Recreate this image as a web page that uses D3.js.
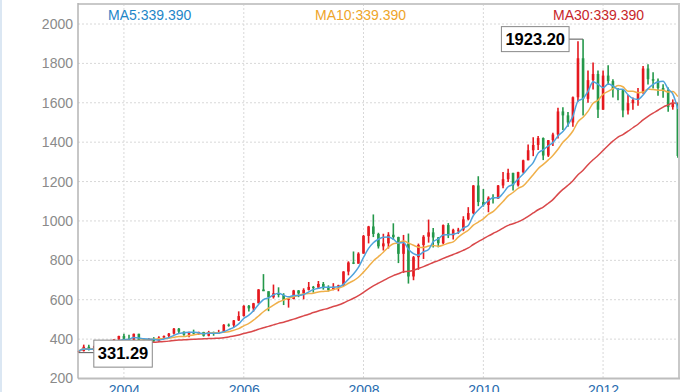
<!DOCTYPE html>
<html><head><meta charset="utf-8">
<script src="https://cdn.jsdelivr.net/npm/d3@7"></script>
<style>html,body{margin:0;padding:0;background:#fff;overflow:hidden}</style>
</head><body>
<script>
const months = ["2003-04","2003-05","2003-06","2003-07","2003-08","2003-09","2003-10","2003-11","2003-12",
"2004-01","2004-02","2004-03","2004-04","2004-05","2004-06","2004-07","2004-08","2004-09","2004-10","2004-11","2004-12",
"2005-01","2005-02","2005-03","2005-04","2005-05","2005-06","2005-07","2005-08","2005-09","2005-10","2005-11","2005-12",
"2006-01","2006-02","2006-03","2006-04","2006-05","2006-06","2006-07","2006-08","2006-09","2006-10","2006-11","2006-12",
"2007-01","2007-02","2007-03","2007-04","2007-05","2007-06","2007-07","2007-08","2007-09","2007-10","2007-11","2007-12",
"2008-01","2008-02","2008-03","2008-04","2008-05","2008-06","2008-07","2008-08","2008-09","2008-10","2008-11","2008-12",
"2009-01","2009-02","2009-03","2009-04","2009-05","2009-06","2009-07","2009-08","2009-09","2009-10","2009-11","2009-12",
"2010-01","2010-02","2010-03","2010-04","2010-05","2010-06","2010-07","2010-08","2010-09","2010-10","2010-11","2010-12",
"2011-01","2011-02","2011-03","2011-04","2011-05","2011-06","2011-07","2011-08","2011-09","2011-10","2011-11","2011-12",
"2012-01","2012-02","2012-03","2012-04","2012-05","2012-06","2012-07","2012-08","2012-09","2012-10","2012-11","2012-12",
"2013-01","2013-02","2013-03","2013-04"];
const openV = [336.5,339.4,361,346,354.8,375.6,384,386,398,
416,402,397,427,388,393,395,391,408,416,428,453,
438,422,435,428,436,417,436,429,433,473,470,495,
517,569,556,582,652,643,613,633,624,599,604,647,
632,650,665,662,680,659,650,666,673,743,789,783,
834,924,972,934,871,886,930,918,833,885,718,816,
878,920,942,916,887,979,927,955,955.5,1008,1040,1180,
1096,1081,1118,1113,1180,1212,1244,1181,1248,1308,1359,1386,
1421,1332,1410,1439,1556,1536,1500,1628,1826,1620,1715,1746,
1565,1738,1710,1669,1664,1561,1598,1614,1649,1774,1720,1712,
1675,1663,1578,1596];
const highV = [341.5,372,371,366,376,390,392,399,417,
427,422,428,427.5,395,406,410,414,418,431,456,457,
438.5,438,448,438,437,442,438,447,476,479,497,541,
572,573,584,654,730,643,677,663,633,608,650,649,
658,690,670,695,690,673,684,676,745,795,845,841,
929,975,1033,940,935,943,988,920,929,936,822,885,
928,1007,964,918,982,989,961,965,1024,1070,1182,1227,
1162,1125,1136,1182,1249,1265,1245,1250,1311,1388,1425,1431,
1424,1411,1448,1575,1577,1553,1632,1913,1923.2,1764,1804,1764,
1764,1791,1719,1675,1666,1640,1627,1675,1787,1796,1755,1723,
1694,1678,1617,1600];
const lowV = [331.29,337,342,341,351,370,367,374,397,
399,393,392,383,372,383,386,384,401,410,424,430,
417,410,424,421,413,414,417,429,433,463,460,492,
515,540,539,581,644,542,606,612,573,560,602,613,
602,647,636,660,651,642,648,643,670,724,781,783,
834,886,918,860,850,860,903,786,736,682,699,752,
807,890,865,866,882,913,906,934,948,1003,1034,1075,
1073,1044,1088,1113,1166,1198,1155,1175,1241,1308,1329,1360,
1309,1325,1381,1419,1462,1478,1478,1605,1535,1600,1667,1523,
1564,1692,1627,1613,1527,1540,1564,1585,1646,1693,1672,1636,
1626,1555,1565,1321];
const closeV = [339.39,361,346,354.8,375.6,384,386,398,416,
402,397,427,388,393,395,391,408,416,428,453,438,
422,435,428,436,417,436,429,433,473,470,495,517,
569,556,582,652,643,613,633,624,599,604,647,632,
650,665,662,680,659,650,666,673,743,789,783,834,
924,972,934,871,886,930,918,833,885,718,816,878,
920,942,916,887,979,927,955,955.5,1008,1040,1180,1096,
1081,1118,1113,1180,1212,1244,1181,1248,1308,1359,1386,1421,
1332,1410,1439,1556,1536,1500,1628,1826,1620,1715,1746,1565,
1738,1710,1669,1664,1561,1598,1614,1649,1774,1720,1712,1675,
1663,1578,1596,1330];
const yTicks = [200,400,600,800,1000,1200,1400,1600,1800,2000];
const xTickYears = ["2004","2006","2008","2010","2012"];
const maPeriods = [5,10,30];
const maColors = {5:"#4fa3dc",10:"#f0b04a",30:"#d9484a"};
const maTextColors = {5:"#1f86c8",10:"#eea52a",30:"#c8262a"};
const maTextX = {5:108,10:315,30:553};

const W=686,H=392, L=78, R=679, T=4, B=378.5;
const parse = d3.timeParse("%Y-%m");
const data = months.map((m,i)=>({date:parse(m),o:openV[i],h:highV[i],l:lowV[i],c:closeV[i]}));

const x = d3.scaleTime().domain([new Date(2003,2,27), new Date(2013,3,8)]).range([L,R]);
const y = d3.scaleLinear().domain([200,2000]).range([B,24]);

const svg = d3.select("body").append("svg").attr("width",W).attr("height",H)
  .style("font-family","'Liberation Sans',Arial,sans-serif");

svg.append("rect").attr("x",0).attr("y",0).attr("width",2).attr("height",H).attr("fill","#dbe7f3");

const grid = svg.append("g");
grid.selectAll("line.h").data(yTicks).join("line")
  .attr("x1",L).attr("x2",R).attr("y1",d=>y(d)).attr("y2",d=>y(d))
  .attr("stroke","#d8d8d8").attr("stroke-dasharray","2,2");
grid.selectAll("line.v").data(xTickYears).join("line")
  .attr("x1",d=>x(d3.timeParse("%Y")(d))).attr("x2",d=>x(d3.timeParse("%Y")(d)))
  .attr("y1",T).attr("y2",B).attr("stroke","#d8d8d8").attr("stroke-dasharray","2,2");

const up="#e5191f", down="#24984a";
const cg = svg.append("g");
cg.selectAll("line.w").data(data).join("line")
  .attr("x1",d=>x(d.date)).attr("x2",d=>x(d.date))
  .attr("y1",d=>y(d.h)).attr("y2",d=>y(d.l))
  .attr("stroke",d=>d.c>=d.o?up:down).attr("stroke-width",1.6);
cg.selectAll("rect").data(data).join("rect")
  .attr("x",d=>x(d.date)-1.3).attr("width",2.6)
  .attr("y",d=>y(Math.max(d.o,d.c)))
  .attr("height",d=>Math.max(1,Math.abs(y(d.o)-y(d.c))))
  .attr("fill",d=>d.c>=d.o?up:down);

function ma(n){return closeV.map((v,i)=>{const s=closeV.slice(Math.max(0,i-n+1),i+1);return d3.mean(s);});}
const line = d3.line().x(d=>x(d[0])).y(d=>y(d[1])).curve(d3.curveMonotoneX);
const fmt = d3.format(".3f");
[30,10,5].forEach(n=>{
  const m = ma(n);
  svg.append("path").datum(data.map((d,i)=>[d.date,m[i]]))
    .attr("d",line).attr("fill","none").attr("stroke",maColors[n]).attr("stroke-width",1.5);
});
maPeriods.forEach(n=>{
  const m = ma(n);
  svg.append("text").attr("x",maTextX[n]).attr("y",20).attr("font-size",14)
    .attr("fill",maTextColors[n]).text("MA"+n+":"+fmt(m[0]));
});

svg.append("line").attr("x1",L).attr("x2",R+1).attr("y1",T).attr("y2",T).attr("stroke","#c9c9c9").attr("stroke-width",2);
svg.append("line").attr("x1",R).attr("x2",R).attr("y1",T).attr("y2",B).attr("stroke","#c9c9c9").attr("stroke-width",2);
svg.append("line").attr("x1",L).attr("x2",R+1).attr("y1",B).attr("y2",B).attr("stroke","#bdbdbd").attr("stroke-width",2);
svg.append("line").attr("x1",L).attr("x2",L).attr("y1",T-1).attr("y2",B).attr("stroke","#b5b5b5").attr("stroke-width",1.5);

const yAxis = d3.axisLeft(y).tickValues(yTicks).tickSize(0).tickPadding(5).tickFormat(d3.format("d"));
const ya = svg.append("g").attr("transform",`translate(${L},0)`).call(yAxis);
ya.select(".domain").remove();
ya.selectAll("text").attr("font-size",14).attr("fill","#8a8a8a").attr("font-family","'Liberation Sans',Arial,sans-serif");
const xAxis = d3.axisBottom(x).tickValues(xTickYears.map(s=>d3.timeParse("%Y")(s))).tickSize(0).tickPadding(7).tickFormat(d3.timeFormat("%Y"));
const xa = svg.append("g").attr("transform",`translate(0,${B})`).call(xAxis);
xa.select(".domain").remove();
xa.selectAll("text").attr("font-size",14).attr("fill","#2a6db0").attr("font-family","'Liberation Sans',Arial,sans-serif");

const iMax = d3.maxIndex(highV), iMin = d3.minIndex(lowV);
function annot(i, val, side){
  const cx = x(data[i].date), cy = y(val);
  const g = svg.append("g");
  const t = g.append("text").attr("font-size",16.5).attr("font-weight","bold").attr("fill","#000")
    .attr("dy","0.35em").text(d3.format(".2f")(val));
  const bw = t.node().getComputedTextLength()+8, bh = side>0?27:25;
  const bx = side>0 ? cx+15 : cx-14-bw;
  g.insert("line","text").attr("x1",cx).attr("x2",side>0?bx:bx+bw).attr("y1",cy).attr("y2",cy).attr("stroke","#555");
  g.insert("rect","text").attr("x",bx).attr("y",cy-bh/2+ (side>0?1:0)).attr("width",bw).attr("height",bh)
    .attr("fill","#fff").attr("stroke","#888");
  t.attr("x",bx+4).attr("y",cy+(side>0?1:0));
}
annot(iMax, highV[iMax], -1);
annot(iMin, lowV[iMin], 1);
</script>
</body></html>
